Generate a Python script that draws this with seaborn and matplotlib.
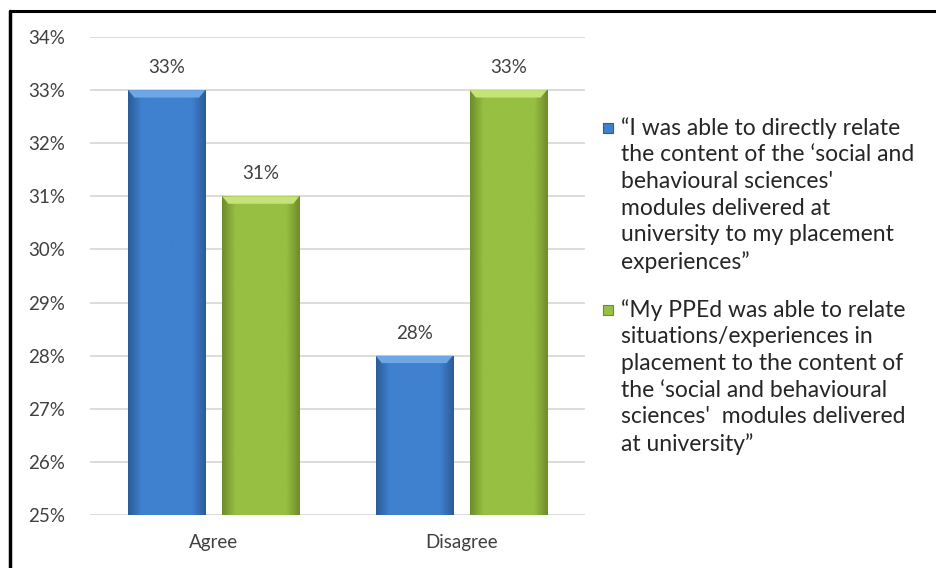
import numpy as np
import pandas as pd
import matplotlib
matplotlib.use("Agg")
import matplotlib.pyplot as plt
from matplotlib.colors import LinearSegmentedColormap
from matplotlib.patches import Polygon, Rectangle
from matplotlib.lines import Line2D
import seaborn as sns

# data
categories = ["Agree", "Disagree"]
series_names = [
    "\u201cI was able to directly relate\nthe content of the \u2018social and\nbehavioural sciences'\nmodules delivered at\nuniversity to my placement\nexperiences\u201d",
    "\u201cMy PPEd was able to relate\nsituations/experiences in\nplacement to the content of\nthe \u2018social and behavioural\nsciences'  modules delivered\nat university\u201d",
]
relate_values = [33, 28]
pped_values = [31, 33]
y_ticks = [25, 26, 27, 28, 29, 30, 31, 32, 33, 34]

df = pd.DataFrame({
    "answer": categories * 2,
    "series": [series_names[0]] * 2 + [series_names[1]] * 2,
    "pct": relate_values + pped_values,
})

sns.set_theme(style="white")
plt.rcParams["font.family"] = ["Lato", "DejaVu Sans"]

blue = "#3d7dcb"
green = "#93ba3f"
shades = {
    blue: ("#2c5c98", "#3f80cf", "#6ea6e6"),
    green: ("#6e8d2c", "#97bf42", "#c6e37a"),
}
y_min = 25

fig = plt.figure(figsize=(9.37, 5.68), dpi=100)
ax = fig.add_axes([90 / 937, 53 / 568, 495 / 937, 478 / 568])

sns.barplot(data=df, x="answer", y="pct", hue="series", order=categories,
            hue_order=series_names, palette=[blue, green], width=0.76, gap=0.18,
            ax=ax, legend=False, edgecolor="none")

ax.set_ylim(y_min, 34)
ax.set_yticks(y_ticks)
ax.set_yticklabels([f"{t}%" for t in y_ticks])
ax.yaxis.grid(True, color="#d9d9d9", lw=1.3)
ax.set_axisbelow(True)
for s in ax.spines.values():
    s.set_visible(False)
ax.tick_params(axis="y", labelsize=13.5, colors="#404040", pad=18, length=0)
ax.tick_params(axis="x", labelsize=13.5, colors="#404040", pad=14, length=0)
ax.set_xlabel("")
ax.set_ylabel("")

# gradient + bevel look for each bar
for container, col in zip(ax.containers, [blue, green]):
    dark, mid, light = shades[col]
    cmap = LinearSegmentedColormap.from_list("g", [dark, mid, mid, mid, mid, mid, dark])
    for bar in container:
        x0 = bar.get_x()
        w = bar.get_width()
        top_y = bar.get_y() + bar.get_height()
        bar.set_facecolor("none")
        clip = Rectangle((x0, y_min), w, top_y - y_min, transform=ax.transData)
        grad = np.tile(np.linspace(0, 1, 64), (8, 1))
        im = ax.imshow(grad, extent=[x0, x0 + w, y_min, top_y], cmap=cmap,
                       aspect="auto", origin="lower", zorder=2)
        im.set_clip_path(clip)
        dy = 0.14
        dx = w * 0.08
        top = Polygon([[x0, top_y], [x0 + w, top_y], [x0 + w - dx, top_y - dy],
                       [x0 + dx, top_y - dy]], closed=True, fc=light, ec="none", zorder=3)
        ax.add_patch(top)
    ax.bar_label(container, labels=[f"{v:.0f}%" for v in container.datavalues],
                 padding=10, fontsize=13.5, color="#404040")

ax.set_xlim(-0.5, 1.5)
ax.set_ylim(y_min, 34)

# legend, Excel style: marker next to the first line of each entry
W, H = 937, 568
legend_tops = [117, 299]
for name, col, top in zip(series_names, [blue, green], legend_tops):
    dark, mid, light = shades[col]
    fig.add_artist(Rectangle((603 / W, 1 - (top + 16) / H), 10 / W, 10 / H,
                             transform=fig.transFigure, fc=mid, ec=dark, lw=0.8))
    fig.text(621 / W, 1 - top / H, name, ha="left", va="top", fontsize=16.5,
             color="#262626", linespacing=1.33)

# outer border (top and left)
fig.add_artist(Line2D([10 / W, 1], [1 - 11 / H, 1 - 11 / H], color="black", lw=2.2,
                      transform=fig.transFigure))
fig.add_artist(Line2D([10 / W, 10 / W], [0, 1 - 11 / H], color="black", lw=2.5,
                      transform=fig.transFigure))

fig.savefig("out.png", dpi=100)
